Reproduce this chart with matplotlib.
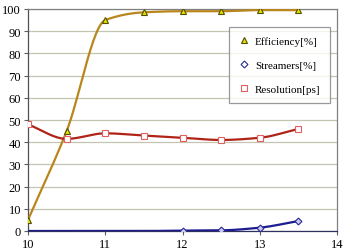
import numpy as np
import matplotlib
matplotlib.use("Agg")
import matplotlib.pyplot as plt

# values
voltage = [10, 10.5, 11, 11.5, 12, 12.5, 13, 13.5]
efficiency = [5, 45, 95, 98.5, 99, 99, 99.5, 99.5]
streamers = [0, 0, 0, 0, 0.2, 0.3, 1.5, 4.5]
resolution = [48, 41.5, 44, 43, 42, 41, 42, 46]


def smooth(xs, ys, n=30):
    # monotone cubic (Fritsch-Carlson) through the points, for a smoothed line
    x = np.asarray(xs, float)
    y = np.asarray(ys, float)
    h = np.diff(x)
    d = np.diff(y) / h
    m = np.zeros_like(y)
    m[0], m[-1] = d[0], d[-1]
    for i in range(1, len(x) - 1):
        if d[i - 1] * d[i] > 0:
            w1 = 2 * h[i] + h[i - 1]
            w2 = h[i] + 2 * h[i - 1]
            m[i] = (w1 + w2) / (w1 / d[i - 1] + w2 / d[i])
    out_x, out_y = [], []
    t = np.linspace(0, 1, n)
    for i in range(len(x) - 1):
        h00 = 2 * t ** 3 - 3 * t ** 2 + 1
        h10 = t ** 3 - 2 * t ** 2 + t
        h01 = -2 * t ** 3 + 3 * t ** 2
        h11 = t ** 3 - t ** 2
        out_x.extend(x[i] + t * h[i])
        out_y.extend(h00 * y[i] + h10 * h[i] * m[i] + h01 * y[i + 1] + h11 * h[i] * m[i + 1])
    return out_x, out_y


plt.rcParams['font.family'] = ['Liberation Serif', 'DejaVu Serif']

fig = plt.figure(figsize=(3.54, 2.53), dpi=100)
ax = fig.add_axes([28 / 354, 1 - 232 / 253, (337 - 28) / 354, (232 - 10) / 253])

ax.plot(*smooth(voltage, efficiency), color='#b8861c', lw=1.6, zorder=3)
ax.plot(voltage, efficiency, ls='none', marker='^', ms=5, mfc='#e8e000',
        mec='#505000', mew=0.8, zorder=4, label='Efficiency[%]')

ax.plot(*smooth(voltage, streamers), color='#1c1c90', lw=1.6, zorder=3)
ax.plot(voltage[4:], streamers[4:], ls='none', marker='D', ms=3.5, mfc='#c8c8f0',
        mec='#2a2a90', mew=0.8, zorder=4)
ax.plot([], [], ls='none', marker='D', ms=3.5, mfc='white', mec='#2a2a90',
        mew=0.8, label='Streamers[%]')

ax.plot(*smooth(voltage, resolution), color='#b02418', lw=1.6, zorder=3)
ax.plot(voltage, resolution, ls='none', marker='s', ms=5, mfc='white',
        mec='#e06060', mew=0.8, zorder=4, label='Resolution[ps]')

ax.set_xlim(10, 14)
ax.set_ylim(0, 100)
ax.set_xticks(range(10, 15))
ax.set_yticks(range(0, 101, 10))
ax.yaxis.grid(True, color='#c4c4b0', lw=0.9)
ax.set_axisbelow(True)
ax.tick_params(labelsize=9, length=3, width=0.8, color='#606060', pad=2)
for side in ax.spines.values():
    side.set_color('#808080')
    side.set_linewidth(0.9)
ax.spines['left'].set_color('#505050')
ax.spines['bottom'].set_color('#303060')

leg = ax.legend(loc='upper right', bbox_to_anchor=(0.977, 0.919), fontsize=8,
                frameon=True, fancybox=False, edgecolor='#808080',
                handlelength=1.0, handletextpad=0.5, labelspacing=1.25,
                borderpad=0.85, borderaxespad=0)
leg.get_frame().set_linewidth(0.9)

fig.savefig('out.png', dpi=100)
